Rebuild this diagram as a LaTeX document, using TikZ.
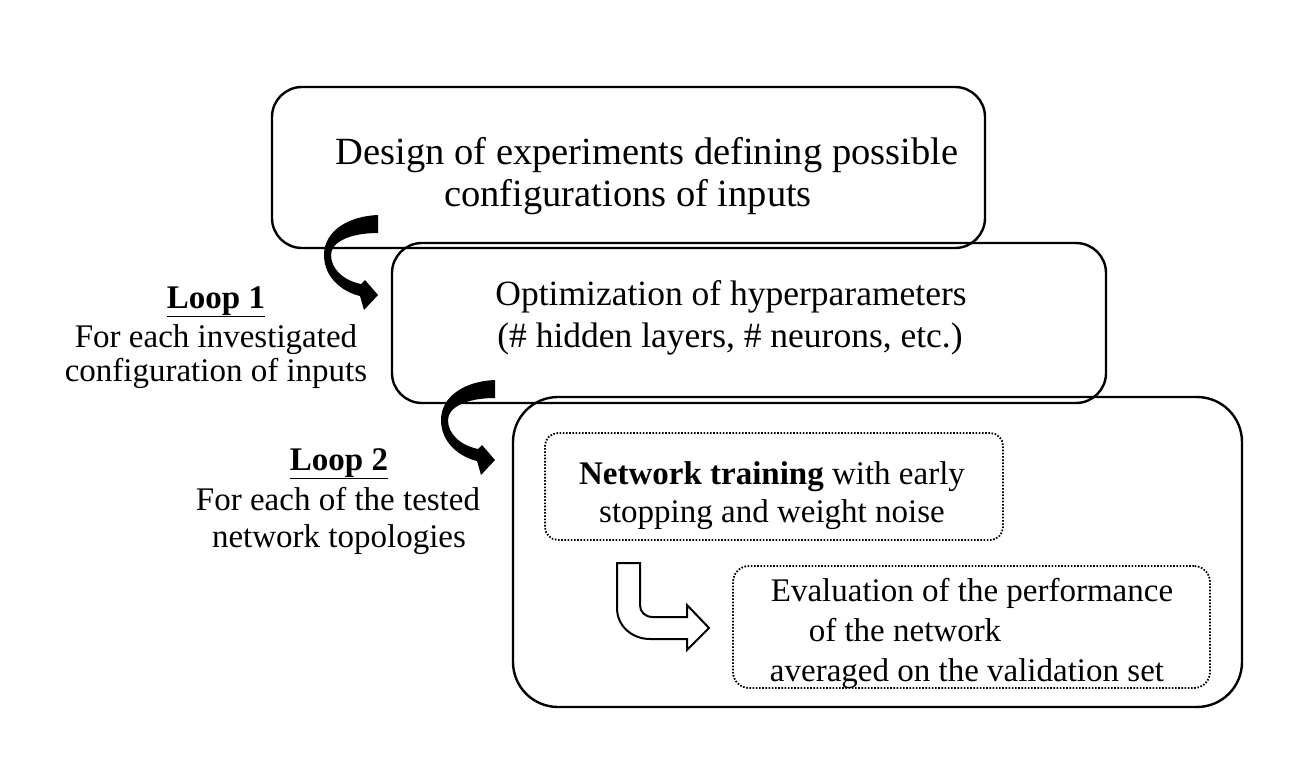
\documentclass[tikz,border=0pt]{standalone}
\usepackage{fontspec}
\setmainfont{Liberation Serif}
\begin{document}
\begin{tikzpicture}[x=1pt,y=-1pt,
  box/.style={draw=black,line width=2.4pt,rounded corners=30pt,inner sep=0pt},
  dotbox/.style={draw=black,line width=1.8pt,dash pattern=on 1.6pt off 1.6pt,rounded corners=13pt,inner sep=0pt},
  txtA/.style={anchor=base,inner sep=0pt,font=\fontsize{38.5}{42}\selectfont},
  txtB/.style={anchor=base,inner sep=0pt,font=\fontsize{35.5}{42}\selectfont},
  txtC/.style={anchor=base,inner sep=0pt,font=\fontsize{33}{38}\selectfont},
  curvedarrow/.pic={
    \fill[black] (378,215) .. controls (350,216) and (324,230) .. (324,255)
      .. controls (324,278) and (343,292) .. (360,296) -- (364,310) -- (378,295)
      -- (365,280) -- (361,284) .. controls (342,280) and (331,268) .. (331,255)
      .. controls (331,242) and (350,233) .. (378,233) -- cycle;
  }]
\useasboundingbox (0,0) rectangle (1312,758);
% boxes
\node[box,minimum width=713pt,minimum height=161pt] (b1) at (628.5,167.5) {};
\node[box,minimum width=714pt,minimum height=160pt] (b2) at (749,323) {};
\node[box,rounded corners=45pt,minimum width=729pt,minimum height=310pt] (b3) at (877.5,552) {};
\node[dotbox,minimum width=458pt,minimum height=107pt] (d1) at (774,486.5) {};
\node[dotbox,rounded corners=16pt,minimum width=477pt,minimum height=122pt] (d2) at (971.5,627) {};
% texts
\node[txtA] (t1a) at (647,164) {Design of experiments defining possible};
\node[txtA] (t1b) at (628,206) {configurations of inputs};
\node[txtB] (t2a) at (731,305) {Optimization of hyperparameters};
\node[txtB] (t2b) at (730,347) {(\# hidden layers, \# neurons, etc.)};
\node[txtC] (t3a) at (772,484) {\textbf{Network training} with early};
\node[txtC] (t3b) at (772,522) {stopping and weight noise};
\node[txtC] (t4a) at (972,601) {Evaluation of the performance};
\node[txtC] (t4b) at (905,641) {of the network};
\node[txtC] (t4c) at (967,681) {averaged on the validation set};
\node[txtC] (l1) at (216,308) {\textbf{\underline{Loop 1}}};
\node[txtC] (l1a) at (216,347) {For each investigated};
\node[txtC] (l1b) at (216,381) {configuration of inputs};
\node[txtC] (l2) at (339,470) {\textbf{\underline{Loop 2}}};
\node[txtC] (l2a) at (338,510) {For each of the tested};
\node[txtC] (l2b) at (339,547) {network topologies};
% curved black arrows
\pic (a1) at (0,0) {curvedarrow};
\pic (a2) at (117,165) {curvedarrow};
% hollow bent arrow
\draw[line width=2pt,line join=miter] (617,563) -- (640,563) -- (640,605)
  .. controls (640,612) and (645,617) .. (653,617) -- (687,617) -- (687,605)
  -- (709,628) -- (687,650) -- (687,639) -- (650,639)
  .. controls (632,639) and (617,626) .. (617,608) -- cycle;
\end{tikzpicture}
\end{document}
